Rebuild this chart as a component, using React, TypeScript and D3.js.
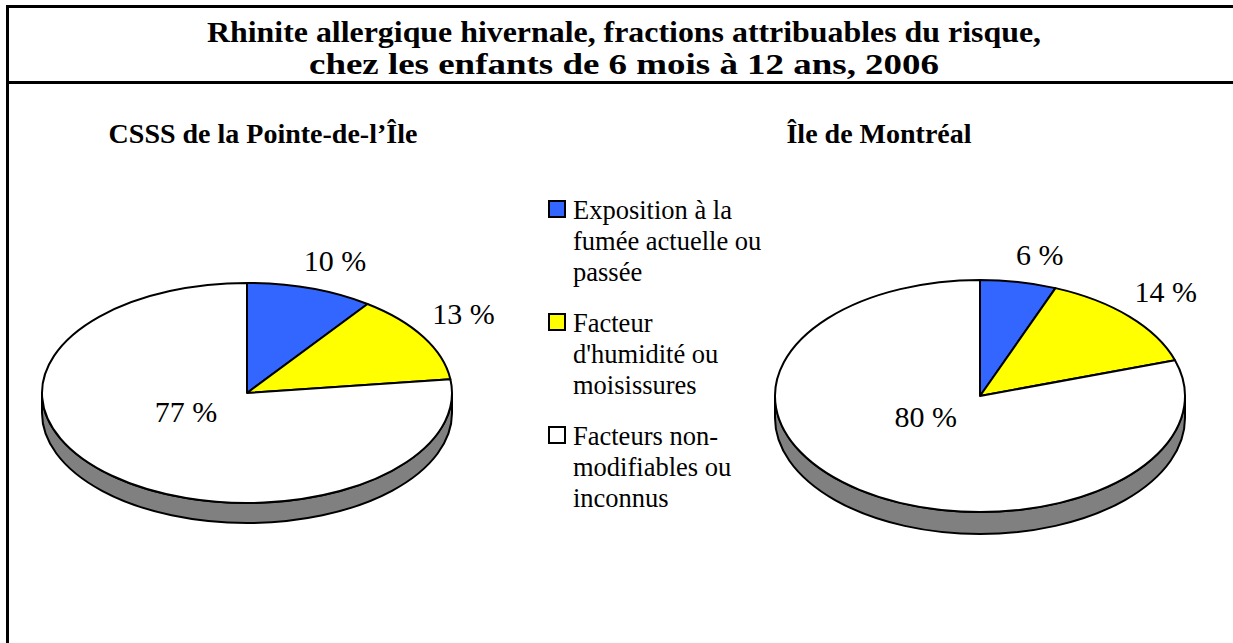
import React from "react";
import * as d3 from "d3";

const titleLines = [
  "Rhinite allergique hivernale, fractions attribuables du risque,",
  "chez les enfants de 6 mois à 12 ans, 2006",
];
const regions = ["CSSS de la Pointe-de-l’Île", "Île de Montréal"];
const legendLines = [
  ["Exposition à la", "fumée actuelle ou", "passée"],
  ["Facteur", "d'humidité ou", "moisissures"],
  ["Facteurs non-", "modifiables ou", "inconnus"],
];
const colors = ["#3366FF", "#FFFF00", "#FFFFFF"];
const pointeValues = [10, 13, 77];
const montrealValues = [6, 14, 80];

const W = 1233;
const H = 643;
const FONT = "Liberation Serif, Times New Roman, DejaVu Serif, serif";

type PieProps = {
  values: number[];
  cx: number;
  cy: number;
  rx: number;
  ry: number;
  depth: number;
};

function Pie3D({ values, cx, cy, rx, ry, depth }: PieProps) {
  const arcs = d3.pie<number>().sort(null)(values);
  const pt = (a: number, dy = 0) => [cx + rx * Math.sin(a), cy - ry * Math.cos(a) + dy];

  const topPath = (a0: number, a1: number) => {
    const [x0, y0] = pt(a0);
    const [x1, y1] = pt(a1);
    const large = a1 - a0 > Math.PI ? 1 : 0;
    return `M${cx},${cy}L${x0},${y0}A${rx},${ry} 0 ${large} 1 ${x1},${y1}Z`;
  };
  // front wall, only the part facing the viewer (90° to 270°)
  const sidePath = (a0: number, a1: number) => {
    const s = Math.max(a0, Math.PI / 2);
    const e = Math.min(a1, (3 * Math.PI) / 2);
    if (s >= e) return null;
    const [x0, y0] = pt(s);
    const [x1, y1] = pt(e);
    const [x2, y2] = pt(e, depth);
    const [x3, y3] = pt(s, depth);
    return `M${x0},${y0}A${rx},${ry} 0 0 1 ${x1},${y1}L${x2},${y2}A${rx},${ry} 0 0 0 ${x3},${y3}Z`;
  };

  return (
    <g>
      {arcs.map((a, i) => {
        const d = sidePath(a.startAngle, a.endAngle);
        return d ? (
          <path key={"s" + i} d={d} fill={d3.interpolateRgb(colors[i], "#000")(0.5)} stroke="#000" strokeWidth={2} />
        ) : null;
      })}
      {arcs.map((a, i) => (
        <path key={"t" + i} d={topPath(a.startAngle, a.endAngle)} fill={colors[i]} stroke="#000" strokeWidth={2} strokeLinejoin="round" />
      ))}
      {arcs.map((a, i) => {
        const mid = (a.startAngle + a.endAngle) / 2;
        const s = Math.sin(mid);
        const c = Math.cos(mid);
        let x: number, y: number;
        if (a.value > 50) {
          x = cx + rx * 0.45 * s;
          y = cy - ry * 0.22 * c;
        } else {
          const [ex, ey] = pt(mid);
          x = ex + 16 + 28 * s;
          y = ey - (18 + 10 * c);
        }
        return (
          <text key={"l" + i} x={x} y={y} textAnchor="middle" dominantBaseline="central" fontSize={30} style={{ fontFamily: FONT }}>
            {a.value + " %"}
          </text>
        );
      })}
    </g>
  );
}

export default function App() {
  return (
    <svg width={W} height={H} style={{ position: "absolute", left: 0, top: 0, background: "#fff", fontFamily: FONT }}>
      <rect x={0} y={0} width={W} height={H} fill="#fff" />
      <rect x={7.5} y={6.5} width={W + 10} height={H + 10} fill="none" stroke="#000" strokeWidth={3} />
      <line x1={7.5} x2={W} y1={82.5} y2={82.5} stroke="#000" strokeWidth={3} />
      <text x={624} y={42} textAnchor="middle" fontSize={29} fontWeight="bold" textLength={834} lengthAdjust="spacingAndGlyphs" style={{ fontFamily: FONT }}>
        {titleLines[0]}
      </text>
      <text x={624} y={74} textAnchor="middle" fontSize={29} fontWeight="bold" textLength={630} lengthAdjust="spacingAndGlyphs" style={{ fontFamily: FONT }}>
        {titleLines[1]}
      </text>
      <text x={263} y={143} textAnchor="middle" fontSize={28} fontWeight="bold" style={{ fontFamily: FONT }}>
        {regions[0]}
      </text>
      <text x={879} y={143} textAnchor="middle" fontSize={28} fontWeight="bold" style={{ fontFamily: FONT }}>
        {regions[1]}
      </text>

      <Pie3D values={pointeValues} cx={247} cy={393} rx={205} ry={110} depth={20} />
      <Pie3D values={montrealValues} cx={980} cy={396} rx={205} ry={116} depth={22} />

      {legendLines.map((lines, i) => {
        const y0 = 209 + i * 113;
        return (
          <g key={i}>
            <rect x={549} y={y0 - 8} width={16} height={16} fill={colors[i]} stroke="#000" strokeWidth={2} />
            {lines.map((l, j) => (
              <text key={j} x={573} y={y0 + 1 + j * 31} dominantBaseline="central" fontSize={26.5} style={{ fontFamily: FONT }}>
                {l}
              </text>
            ))}
          </g>
        );
      })}
    </svg>
  );
}
